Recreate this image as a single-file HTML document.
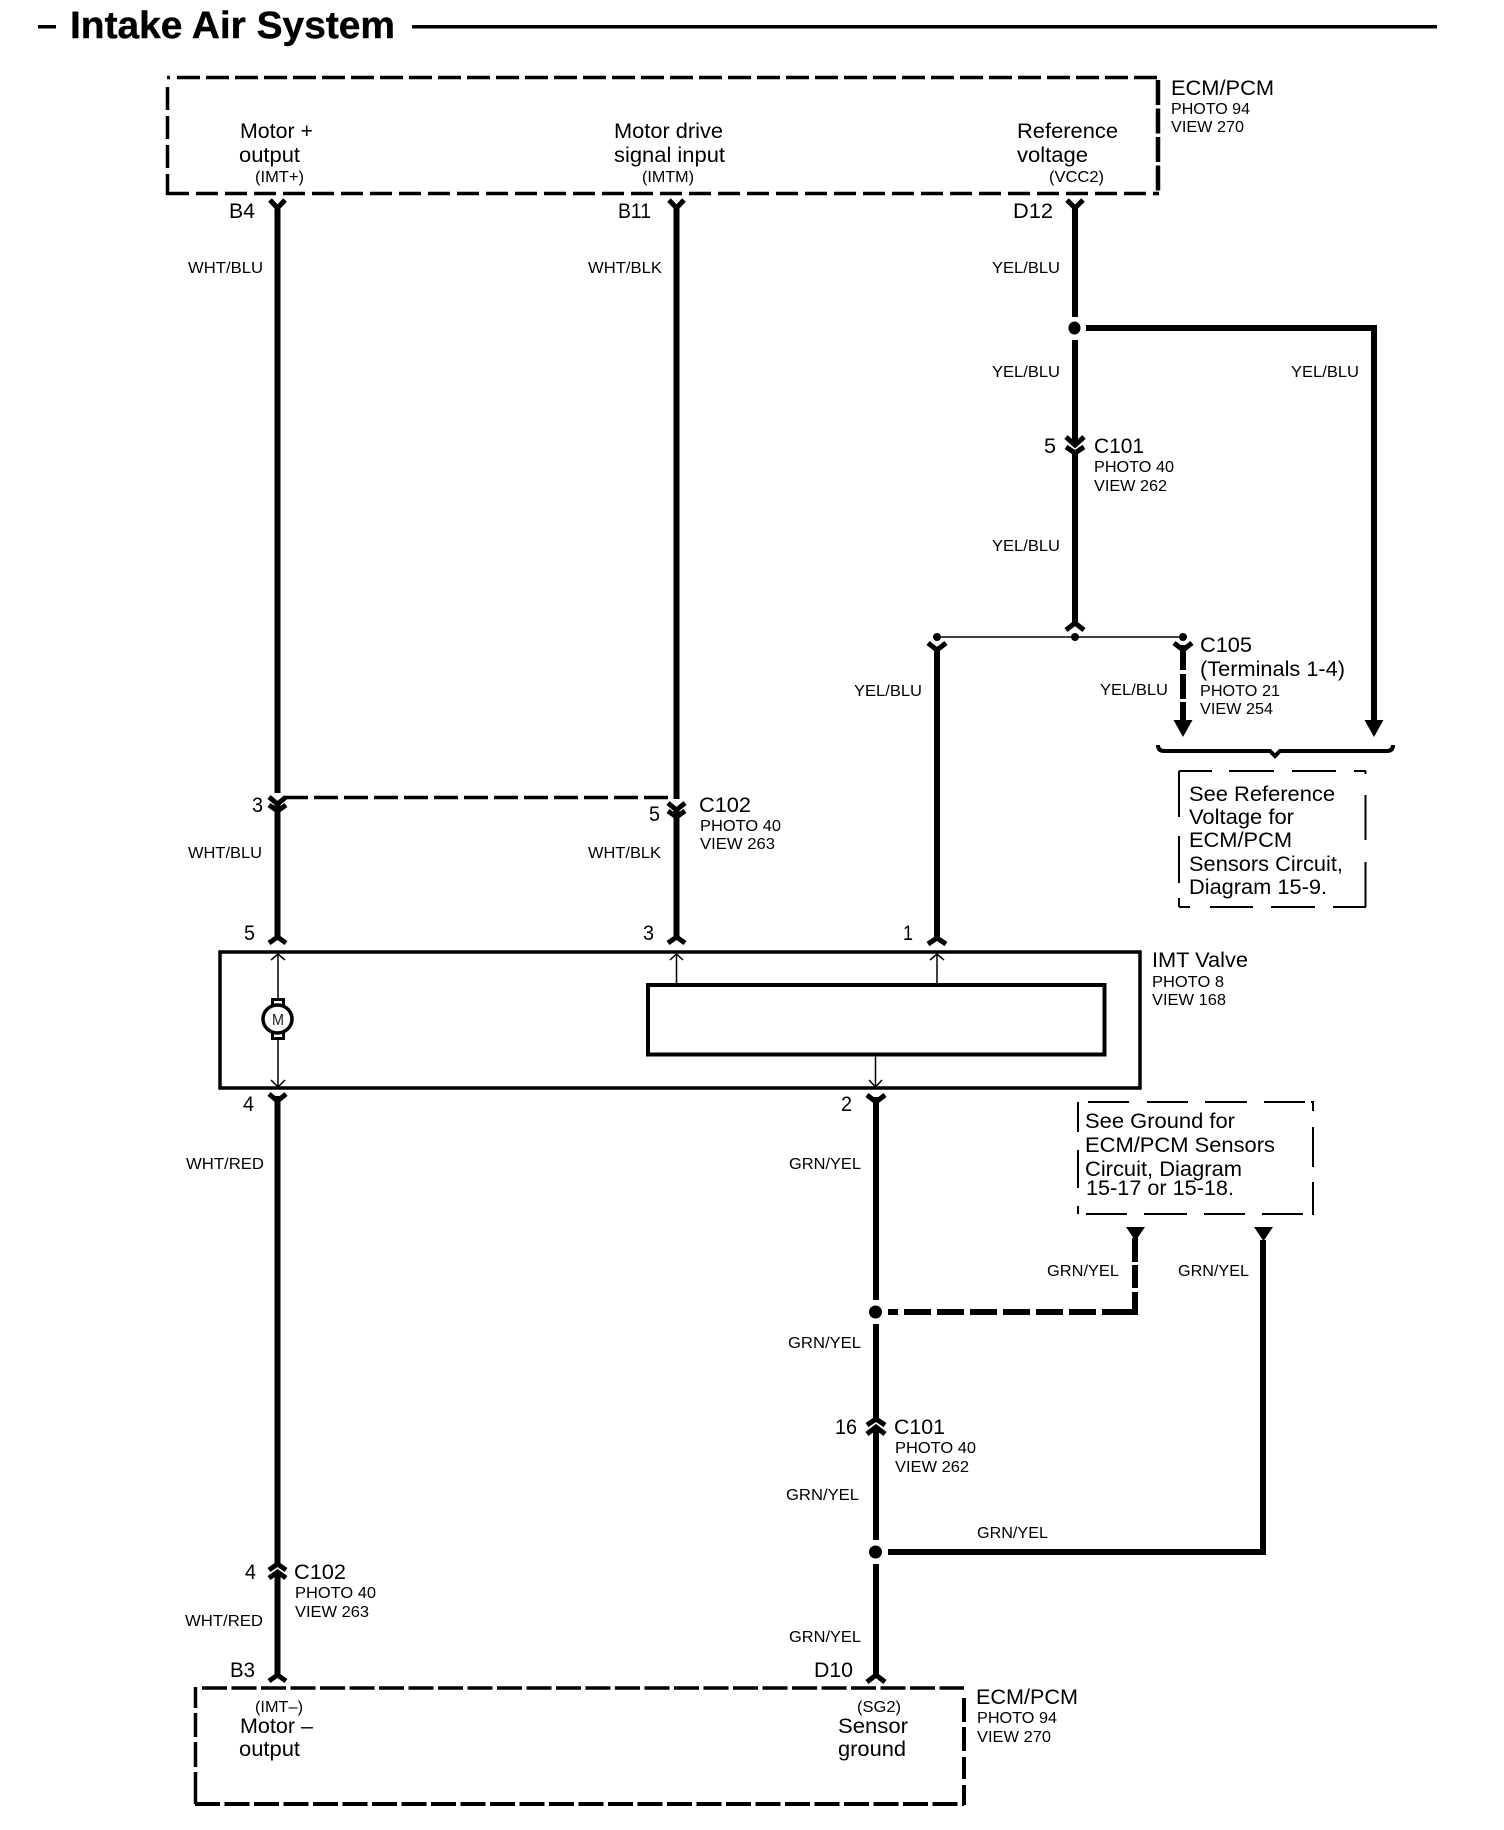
<!DOCTYPE html>
<html>
<head>
<meta charset="utf-8">
<style>
html,body{margin:0;padding:0;background:#fff;width:1504px;height:1830px;overflow:hidden}
svg{display:block}
text{font-family:"Liberation Sans",sans-serif;fill:#000}
.l{font-size:21px;transform:translateX(-1px)}
.s{font-size:16px}
.n{font-size:16px;transform:translateX(-1px)}
.p{font-size:16px;transform:translateX(-1px)}
.t{font-size:38px;font-weight:bold;stroke:#000;stroke-width:.4px}
</style>
</head>
<body>
<svg width="1504" height="1830" viewBox="0 0 1504 1830" xmlns="http://www.w3.org/2000/svg">
<rect width="1504" height="1830" fill="#fff"/>

<!-- Title -->
<rect x="38" y="25" width="18" height="3.5"/>
<text class="t" x="70" y="38" textLength="325" lengthAdjust="spacingAndGlyphs">Intake Air System</text>
<rect x="412" y="25" width="1025" height="3.5"/>

<!-- Top ECM box -->
<g fill="none" stroke="#000" stroke-width="3.5">
<path d="M177 77.5H1158" stroke-dasharray="23 6"/>
<path d="M167 77.5H170" />
<path d="M167.5 87V195" stroke-dasharray="23 6"/>
<path d="M167 193.5H1159" stroke-dasharray="22 7"/>
<path d="M1158 80V194" stroke-dasharray="25 3.5" stroke-width="4.5"/>
</g>

<!-- Bottom ECM box -->
<g fill="none" stroke="#000" stroke-width="3.5">
<path d="M202 1688H964" stroke-dasharray="25 4.5"/>
<path d="M195 1804H964" stroke-dasharray="25 4.5" stroke-width="4"/>
<path d="M195.5 1687V1708M195.5 1713V1737M195.5 1742V1767M195.5 1772V1804"/>
<path d="M964 1698V1722M964 1727V1751M964 1757V1779M964 1785V1805" stroke-width="4"/>
</g>

<!-- Thin dashed note boxes -->
<g fill="none" stroke="#000" stroke-width="2">
<path d="M1179 771H1212M1229 771H1274M1292 771H1336M1354 771H1366"/>
<path d="M1365.5 771V774M1365.5 795V840M1365.5 862V907"/>
<path d="M1179 771V817M1179 836V883M1179 898V907"/>
<path d="M1179 907H1190M1210 907H1253M1271 907H1315M1333 907H1366"/>

<path d="M1088 1102H1129M1147 1102H1188M1205 1102H1247M1264 1102H1305M1311 1102H1314"/>
<path d="M1078 1102V1132M1078 1150V1188M1078 1206V1214"/>
<path d="M1313 1102V1111M1313 1127V1167M1313 1182V1214"/>
<path d="M1086 1214H1127M1144 1214H1187M1204 1214H1245M1262 1214H1303M1312 1214H1314"/>
</g>

<!-- Main wires -->
<g fill="none" stroke="#000" stroke-width="6">
<path d="M277.5 206V793"/>
<path d="M277.5 803V938"/>
<path d="M676.5 206V799"/>
<path d="M676.5 809V938"/>
<path d="M1075 206V317"/>
<path d="M1075 340V444"/>
<path d="M1075 451V624"/>
<path d="M1086 328H1374M1374 325V722"/>
<path d="M937 648V939"/>
<path d="M1183 645V670M1183 674V699M1183 702V722"/>
<path d="M277.5 1096V1565"/>
<path d="M277.5 1572V1676"/>
<path d="M876 1097V1300"/>
<path d="M876 1324V1420"/>
<path d="M876 1427V1540"/>
<path d="M876 1564V1676"/>
<path d="M888 1552H1266M1263 1240V1555"/>
<path d="M888 1312H898M904 1312H931M937 1312H964M970 1312H997M1003 1312H1030M1036 1312H1063M1069 1312H1096M1102 1312H1138"/>
<path d="M1135 1238V1262M1135 1265V1288M1135 1292V1315"/>
</g>

<!-- Dashed C102 link -->
<path d="M284 797.5H670" fill="none" stroke="#000" stroke-width="3.5" stroke-dasharray="24 6"/>

<!-- Thin line C105 -->
<path d="M937 637H1183" fill="none" stroke="#000" stroke-width="1.5"/>

<!-- Junction dots -->
<ellipse cx="1074.5" cy="328" rx="6" ry="6.5"/>
<circle cx="875.5" cy="1312" r="6.5"/>
<circle cx="875.5" cy="1552" r="6.5"/>
<circle cx="937" cy="637" r="4"/>
<circle cx="1075" cy="637" r="4"/>
<circle cx="1183" cy="637" r="4"/>

<!-- Connector chevrons -->
<g fill="none" stroke="#000" stroke-width="5">
<!-- top Y -->
<path d="M270 200L277.5 208L285 200"/>
<path d="M669 200L676.5 208L684 200"/>
<path d="M1067 200L1075 208L1083 200"/>
<!-- C101 5 -->
<path d="M1066 437L1075 445L1084 437"/>
<path d="M1066 447L1075 453L1084 447"/>
<!-- split -->
<path d="M1066 630L1075 623L1084 630"/>
<path d="M928 643L937 650L946 643"/>
<path d="M1174 643L1183 650L1192 643"/>
<!-- C102 -->
<path d="M269 797L277.5 804L286 797"/>
<path d="M269 805L277.5 811L286 805"/>
<path d="M668 803L676.5 810L685 803"/>
<path d="M668 811L676.5 817L685 811"/>
<!-- IMT top -->
<path d="M269 943L277.5 937L286 943"/>
<path d="M668 943L676.5 937L685 943"/>
<path d="M928 944L937 938L946 944"/>
<!-- IMT bottom -->
<path d="M269 1094L277.5 1101L286 1094"/>
<path d="M867 1095L876 1102L885 1095"/>
<!-- C101 16 -->
<path d="M867 1425L876 1419L885 1425"/>
<path d="M867 1434L876 1427L885 1434"/>
<!-- C102 4 -->
<path d="M269 1570L277.5 1564L286 1570"/>
<path d="M269 1578L277.5 1572L286 1578"/>
<!-- bottom -->
<path d="M269 1681L277.5 1675L286 1681"/>
<path d="M867 1682L876 1675L885 1682"/>
</g>

<!-- Arrowheads -->
<polygon points="1173.5,720 1192.5,720 1183,737"/>
<polygon points="1364.5,720 1383.5,720 1374,737"/>
<polygon points="1126,1227 1145,1227 1135.5,1241"/>
<polygon points="1254,1227 1273,1227 1263.5,1241"/>

<!-- Brace -->
<path d="M1158 745C1158 749 1160 751 1164 751H1270L1275 756L1280 751H1387C1391 751 1393 749 1393 745" fill="none" stroke="#000" stroke-width="4"/>

<!-- IMT Valve box -->
<rect x="220" y="952" width="920" height="136" fill="none" stroke="#000" stroke-width="3.5"/>
<rect x="648" y="985" width="456.5" height="69.5" fill="none" stroke="#000" stroke-width="4"/>

<!-- Internal thin wires -->
<g fill="none" stroke="#000" stroke-width="1.5">
<path d="M278 954V998M278 1040V1086"/>
<path d="M271 960L278 954L285 960"/>
<path d="M271 1080L278 1087L285 1080"/>
<path d="M676.5 954V984"/>
<path d="M670 960L676.5 954L683 960"/>
<path d="M937 954V984"/>
<path d="M930 960L937 954L944 960"/>
<path d="M875.5 1055V1086"/>
<path d="M869 1080L875.5 1087L882 1080"/>
</g>

<!-- Motor -->
<rect x="271" y="998" width="14" height="42"/>
<rect x="274" y="1001" width="8" height="3" fill="#fff"/>
<rect x="274" y="1034" width="8" height="3" fill="#fff"/>
<ellipse cx="277.5" cy="1019" rx="14.5" ry="14" fill="#fff" stroke="#000" stroke-width="3.5"/>
<text x="272" y="1025" font-size="16" textLength="12" lengthAdjust="spacingAndGlyphs" style="fill:#222">M</text>

<!-- Top labels -->
<text class="l" x="241" y="138" textLength="73" lengthAdjust="spacingAndGlyphs">Motor +</text>
<text class="l" x="240" y="162" textLength="61" lengthAdjust="spacingAndGlyphs">output</text>
<text class="p" x="256" y="182" textLength="49" lengthAdjust="spacingAndGlyphs">(IMT+)</text>
<text class="l" x="615" y="138" textLength="109" lengthAdjust="spacingAndGlyphs">Motor drive</text>
<text class="l" x="615" y="162" textLength="111" lengthAdjust="spacingAndGlyphs">signal input</text>
<text class="p" x="643" y="182" textLength="52" lengthAdjust="spacingAndGlyphs">(IMTM)</text>
<text class="l" x="1018" y="138" textLength="101" lengthAdjust="spacingAndGlyphs">Reference</text>
<text class="l" x="1018" y="162" textLength="71" lengthAdjust="spacingAndGlyphs">voltage</text>
<text class="p" x="1050" y="182" textLength="55" lengthAdjust="spacingAndGlyphs">(VCC2)</text>
<text class="l" x="1172" y="95" textLength="103" lengthAdjust="spacingAndGlyphs">ECM/PCM</text>
<text class="n" x="1172" y="114" textLength="79" lengthAdjust="spacingAndGlyphs">PHOTO 94</text>
<text class="n" x="1172" y="132" textLength="73" lengthAdjust="spacingAndGlyphs">VIEW 270</text>

<text class="l" x="230" y="218" textLength="26" lengthAdjust="spacingAndGlyphs">B4</text>
<text class="l" x="619" y="218" textLength="33" lengthAdjust="spacingAndGlyphs">B11</text>
<text class="l" x="1014" y="218" textLength="40" lengthAdjust="spacingAndGlyphs">D12</text>

<!-- Wire labels -->
<text class="s" x="188" y="273" textLength="75" lengthAdjust="spacingAndGlyphs">WHT/BLU</text>
<text class="s" x="588" y="273" textLength="74" lengthAdjust="spacingAndGlyphs">WHT/BLK</text>
<text class="s" x="992" y="273" textLength="68" lengthAdjust="spacingAndGlyphs">YEL/BLU</text>
<text class="s" x="992" y="377" textLength="68" lengthAdjust="spacingAndGlyphs">YEL/BLU</text>
<text class="s" x="1291" y="377" textLength="68" lengthAdjust="spacingAndGlyphs">YEL/BLU</text>
<text class="s" x="992" y="551" textLength="68" lengthAdjust="spacingAndGlyphs">YEL/BLU</text>
<text class="s" x="854" y="696" textLength="68" lengthAdjust="spacingAndGlyphs">YEL/BLU</text>
<text class="s" x="1100" y="695" textLength="68" lengthAdjust="spacingAndGlyphs">YEL/BLU</text>
<text class="s" x="188" y="858" textLength="74" lengthAdjust="spacingAndGlyphs">WHT/BLU</text>
<text class="s" x="588" y="858" textLength="73" lengthAdjust="spacingAndGlyphs">WHT/BLK</text>
<text class="s" x="186" y="1169" textLength="78" lengthAdjust="spacingAndGlyphs">WHT/RED</text>
<text class="s" x="789" y="1169" textLength="72" lengthAdjust="spacingAndGlyphs">GRN/YEL</text>
<text class="s" x="1047" y="1276" textLength="72" lengthAdjust="spacingAndGlyphs">GRN/YEL</text>
<text class="s" x="1178" y="1276" textLength="71" lengthAdjust="spacingAndGlyphs">GRN/YEL</text>
<text class="s" x="788" y="1348" textLength="73" lengthAdjust="spacingAndGlyphs">GRN/YEL</text>
<text class="s" x="786" y="1500" textLength="73" lengthAdjust="spacingAndGlyphs">GRN/YEL</text>
<text class="s" x="977" y="1538" textLength="71" lengthAdjust="spacingAndGlyphs">GRN/YEL</text>
<text class="s" x="789" y="1642" textLength="72" lengthAdjust="spacingAndGlyphs">GRN/YEL</text>
<text class="s" x="185" y="1626" textLength="78" lengthAdjust="spacingAndGlyphs">WHT/RED</text>

<!-- C101 -->
<text class="l" x="1045" y="453" textLength="12" lengthAdjust="spacingAndGlyphs">5</text>
<text class="l" x="1095" y="453" textLength="50" lengthAdjust="spacingAndGlyphs">C101</text>
<text class="n" x="1095" y="472" textLength="80" lengthAdjust="spacingAndGlyphs">PHOTO 40</text>
<text class="n" x="1095" y="491" textLength="73" lengthAdjust="spacingAndGlyphs">VIEW 262</text>

<!-- C105 -->
<text class="l" x="1201" y="652" textLength="52" lengthAdjust="spacingAndGlyphs">C105</text>
<text class="l" x="1201" y="676" textLength="145" lengthAdjust="spacingAndGlyphs">(Terminals 1-4)</text>
<text class="n" x="1201" y="696" textLength="80" lengthAdjust="spacingAndGlyphs">PHOTO 21</text>
<text class="n" x="1201" y="714" textLength="73" lengthAdjust="spacingAndGlyphs">VIEW 254</text>

<!-- Note 1 -->
<text class="l" x="1190" y="801" textLength="146" lengthAdjust="spacingAndGlyphs">See Reference</text>
<text class="l" x="1190" y="824" textLength="105" lengthAdjust="spacingAndGlyphs">Voltage for</text>
<text class="l" x="1190" y="847" textLength="103" lengthAdjust="spacingAndGlyphs">ECM/PCM</text>
<text class="l" x="1190" y="871" textLength="154" lengthAdjust="spacingAndGlyphs">Sensors Circuit,</text>
<text class="l" x="1190" y="894" textLength="138" lengthAdjust="spacingAndGlyphs">Diagram 15-9.</text>

<!-- C102 -->
<text class="l" x="253" y="812" textLength="11" lengthAdjust="spacingAndGlyphs">3</text>
<text class="l" x="650" y="821" textLength="11" lengthAdjust="spacingAndGlyphs">5</text>
<text class="l" x="700" y="812" textLength="52" lengthAdjust="spacingAndGlyphs">C102</text>
<text class="s" x="700" y="831" textLength="81" lengthAdjust="spacingAndGlyphs">PHOTO 40</text>
<text class="s" x="700" y="849" textLength="75" lengthAdjust="spacingAndGlyphs">VIEW 263</text>

<!-- IMT pins -->
<text class="l" x="245" y="940" textLength="11" lengthAdjust="spacingAndGlyphs">5</text>
<text class="l" x="644" y="940" textLength="11" lengthAdjust="spacingAndGlyphs">3</text>
<text class="l" x="904" y="940" textLength="10" lengthAdjust="spacingAndGlyphs">1</text>
<text class="l" x="244" y="1111" textLength="11" lengthAdjust="spacingAndGlyphs">4</text>
<text class="l" x="842" y="1111" textLength="11" lengthAdjust="spacingAndGlyphs">2</text>
<text class="l" x="1153" y="967" textLength="96" lengthAdjust="spacingAndGlyphs">IMT Valve</text>
<text class="n" x="1153" y="987" textLength="72" lengthAdjust="spacingAndGlyphs">PHOTO 8</text>
<text class="n" x="1153" y="1005" textLength="74" lengthAdjust="spacingAndGlyphs">VIEW 168</text>

<!-- Note 2 -->
<text class="l" x="1086" y="1128" textLength="150" lengthAdjust="spacingAndGlyphs">See Ground for</text>
<text class="l" x="1086" y="1152" textLength="190" lengthAdjust="spacingAndGlyphs">ECM/PCM Sensors</text>
<text class="l" x="1086" y="1176" textLength="157" lengthAdjust="spacingAndGlyphs">Circuit, Diagram</text>
<text class="l" x="1087" y="1195" textLength="148" lengthAdjust="spacingAndGlyphs">15-17 or 15-18.</text>

<!-- C101 lower -->
<text class="l" x="836" y="1434" textLength="22" lengthAdjust="spacingAndGlyphs">16</text>
<text class="l" x="895" y="1434" textLength="51" lengthAdjust="spacingAndGlyphs">C101</text>
<text class="s" x="895" y="1453" textLength="81" lengthAdjust="spacingAndGlyphs">PHOTO 40</text>
<text class="s" x="895" y="1472" textLength="74" lengthAdjust="spacingAndGlyphs">VIEW 262</text>

<!-- C102 lower -->
<text class="l" x="246" y="1579" textLength="11" lengthAdjust="spacingAndGlyphs">4</text>
<text class="l" x="295" y="1579" textLength="52" lengthAdjust="spacingAndGlyphs">C102</text>
<text class="s" x="295" y="1598" textLength="81" lengthAdjust="spacingAndGlyphs">PHOTO 40</text>
<text class="s" x="295" y="1617" textLength="74" lengthAdjust="spacingAndGlyphs">VIEW 263</text>

<!-- Bottom box labels -->
<text class="l" x="231" y="1677" textLength="25" lengthAdjust="spacingAndGlyphs">B3</text>
<text class="l" x="815" y="1677" textLength="39" lengthAdjust="spacingAndGlyphs">D10</text>
<text class="p" x="256" y="1712" textLength="48" lengthAdjust="spacingAndGlyphs">(IMT–)</text>
<text class="l" x="241" y="1733" textLength="73" lengthAdjust="spacingAndGlyphs">Motor –</text>
<text class="l" x="240" y="1756" textLength="61" lengthAdjust="spacingAndGlyphs">output</text>
<text class="p" x="858" y="1712" textLength="44" lengthAdjust="spacingAndGlyphs">(SG2)</text>
<text class="l" x="839" y="1733" textLength="70" lengthAdjust="spacingAndGlyphs">Sensor</text>
<text class="l" x="839" y="1756" textLength="68" lengthAdjust="spacingAndGlyphs">ground</text>
<text class="l" x="977" y="1704" textLength="102" lengthAdjust="spacingAndGlyphs">ECM/PCM</text>
<text class="s" x="977" y="1723" textLength="80" lengthAdjust="spacingAndGlyphs">PHOTO 94</text>
<text class="s" x="977" y="1742" textLength="74" lengthAdjust="spacingAndGlyphs">VIEW 270</text>
</svg>
</body>
</html>
